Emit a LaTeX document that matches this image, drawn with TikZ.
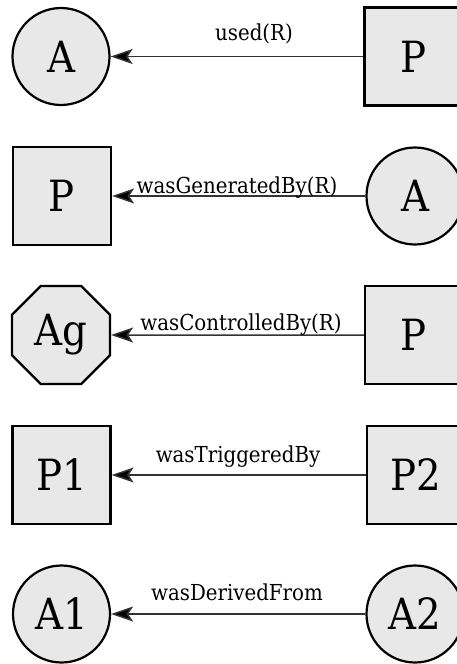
\documentclass[tikz,border=0pt]{standalone}
\usepackage{fontspec}
\setmainfont{DejaVu Serif Condensed}
\usetikzlibrary{shapes.geometric,arrows.meta}
\definecolor{nodefill}{HTML}{E8E8E8}
\definecolor{edgecol}{HTML}{333333}
\tikzset{
  base/.style={draw=black, line width=2.2pt, fill=nodefill, inner sep=0pt, font=\fontsize{43}{46}\selectfont},
  ent/.style={base, circle, minimum size=97pt},
  proc/.style={base, rectangle, minimum size=98pt},
  agent/.style={base, regular polygon, regular polygon sides=8, minimum size=106pt},
  rel/.style={draw=edgecol, line width=1.5pt, -{Stealth[length=22pt,width=15pt,inset=5pt,fill=black]}},
  lbl/.style={anchor=base, inner sep=0pt, font=\fontsize{22}{26}\selectfont}
}
\begin{document}
\begin{tikzpicture}[x=1pt,y=-1pt]
\useasboundingbox (0,0) rectangle (456,664);
% row 1
\node[ent] (a1) at (61,56.5) {A};
\node[proc] (p1) at (413.5,56.5) {P};
\draw[rel] (p1) -- (a1);
\node[lbl] (l1) at (254,40) {used(R)};
% row 2
\node[proc] (p2) at (62,196) {P};
\node[ent] (a2) at (415,196) {A};
\draw[rel] (a2) -- (p2);
\node[lbl] (l2) at (237,193) {wasGeneratedBy(R)};
% row 3
\node[agent] (ag3) at (61,335) {Ag};
\node[proc] (p3) at (414,335) {P};
\draw[rel] (p3) -- (ag3);
\node[lbl] (l3) at (241,330) {wasControlledBy(R)};
% row 4
\node[proc] (p41) at (61.5,475) {P1};
\node[proc] (p42) at (416,475) {P2};
\draw[rel] (p42) -- (p41);
\node[lbl] (l4) at (238,462) {wasTriggeredBy};
% row 5
\node[ent] (a51) at (61.5,614) {A1};
\node[ent] (a52) at (415,614) {A2};
\draw[rel] (a52) -- (a51);
\node[lbl] (l5) at (237,600) {wasDerivedFrom};
\end{tikzpicture}
\end{document}
